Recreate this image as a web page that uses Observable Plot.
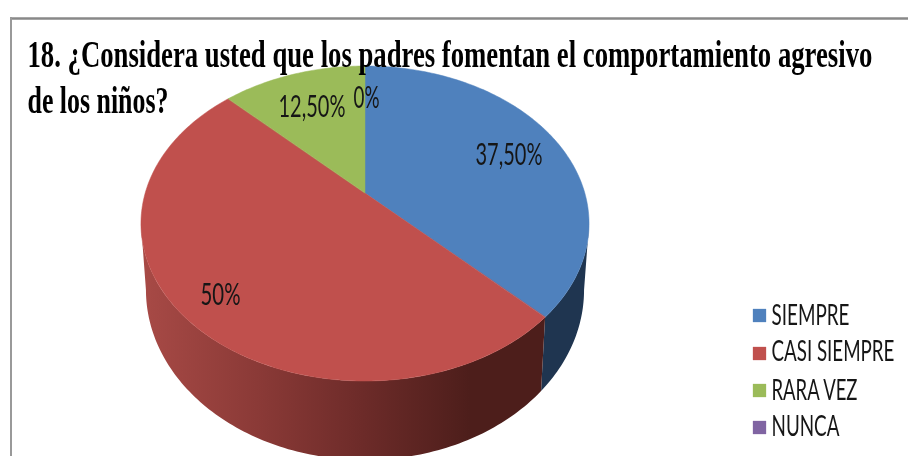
<!DOCTYPE html>
<html lang="es">
<head>
<meta charset="utf-8">
<title>Comportamiento agresivo</title>
<script src="https://cdn.jsdelivr.net/npm/d3@7"></script>
<script src="https://cdn.jsdelivr.net/npm/@observablehq/plot@0.6"></script>
<style>
  html, body { margin: 0; padding: 0; background: #fff; }
  svg { display: block; filter: blur(0.35px); }
</style>
</head>
<body>
<div id="chart"></div>
<script>
// Data
const categories = ["SIEMPRE", "CASI SIEMPRE", "RARA VEZ", "NUNCA"];
const values = [37.5, 50, 12.5, 0];
const valueLabels = ["37,50%", "50%", "12,50%", "0%"];
const colors = ["#4F81BD", "#C0504D", "#9BBB59", "#8064A2"];
const titleLines = [
  "18. ¿Considera usted que los padres fomentan el comportamiento agresivo",
  "de los niños?"
];

// Layout
const W = 908, H = 456;
const persp = 0.1937;
const topDisc = {cx: 365, cy: 193, a: 219.8, b: 151.6};
const bottomDisc = {cx: 365, cy: 257, a: 214.9, b: 163.6};
const wallFills = ["#1F3550", "url(#redWall)", "#5E7136", "#4D3C61"];
const labelAt = [[475, 164, 67], [200, 304, 40], [278, 116, 67], [353, 107, 26]];
const titleAt = [[27, 66, 845], [27, 112, 141]];
const legendTextWidth = [78, 123, 86, 68];
const legendBaseline = [324, 360, 399, 435];
const legendSwatch = [315, 353, 390, 427];

// Oblique projection of the disc
const project = (disc, t) => {
  const d = 1 + persp * Math.cos(t);
  return [disc.cx + disc.a * Math.sin(t) / d, disc.cy - disc.b * Math.cos(t) / d];
};

const slices = d3.pie().sort(null).value(d => d)(values);
const anglesBetween = (a0, a1) => {
  const n = Math.max(2, Math.ceil((a1 - a0) / (Math.PI / 180)));
  return d3.range(n + 1).map(i => a0 + (a1 - a0) * i / n);
};

const visible = slices.map((s, i) => ({s, i})).filter(d => d.s.value > 0);

// Only the front of the wall shows: it runs between the disc's left and right extremes
const frontStart = Math.acos(-persp);
const frontEnd = 2 * Math.PI - frontStart;
const walls = visible
  .filter(({s}) => s.endAngle > frontStart && s.startAngle < frontEnd)
  .map(({s, i}) => Plot.area(
    anglesBetween(Math.max(s.startAngle, frontStart), Math.min(s.endAngle, frontEnd)), {
      x1: t => project(topDisc, t)[0],
      y1: t => project(topDisc, t)[1],
      x2: t => project(bottomDisc, t)[0],
      y2: t => project(bottomDisc, t)[1],
      fill: wallFills[i],
      curve: "linear"
    }));

const faceRows = visible.flatMap(({s, i}) =>
  anglesBetween(s.startAngle, s.endAngle).map(t => ({t, category: categories[i]})));

const faces = Plot.area(faceRows, {
  x1: () => topDisc.cx,
  y1: () => topDisc.cy,
  x2: d => project(topDisc, d.t)[0],
  y2: d => project(topDisc, d.t)[1],
  z: "category",
  fill: "category",
  stroke: "category",
  strokeWidth: 0.5,
  curve: "linear"
});

const defs = () => {
  const svgNS = "http://www.w3.org/2000/svg";
  const g = document.createElementNS(svgNS, "defs");
  const lg = document.createElementNS(svgNS, "linearGradient");
  lg.setAttribute("id", "redWall");
  lg.setAttribute("gradientUnits", "userSpaceOnUse");
  lg.setAttribute("x1", 141); lg.setAttribute("x2", 470);
  lg.setAttribute("y1", 0); lg.setAttribute("y2", 0);
  [[0, "#A84A46"], [0.35, "#8B3A37"], [0.65, "#6F2C2A"], [1, "#4D1E1B"]].forEach(([o, c]) => {
    const st = document.createElementNS(svgNS, "stop");
    st.setAttribute("offset", o);
    st.setAttribute("stop-color", c);
    lg.appendChild(st);
  });
  g.appendChild(lg);
  return g;
};

const narrow = {};
valueLabels.forEach((t, i) => narrow[t] = labelAt[i][2]);
categories.forEach((t, i) => narrow[t] = legendTextWidth[i]);
titleLines.forEach((t, i) => narrow[t] = titleAt[i][2]);

const chart = Plot.plot({
  width: W,
  height: H,
  margin: 0,
  x: {domain: [0, W], range: [0, W], axis: null},
  y: {domain: [0, H], range: [0, H], axis: null},
  color: {domain: categories, range: colors},
  style: {background: "#fff", overflow: "hidden"},
  marks: [
    defs,
    // frame
    Plot.ruleY([18], {x1: 10, x2: W, stroke: "#888", strokeWidth: 2.5}),
    Plot.ruleX([10.5], {y1: 17, y2: H, stroke: "#999", strokeWidth: 2}),
    ...walls,
    faces,
    // value labels
    Plot.text(valueLabels, {
      x: (d, i) => labelAt[i][0],
      y: (d, i) => labelAt[i][1],
      text: d => d,
      textAnchor: "start",
      lineAnchor: "bottom",
      fontFamily: "Lato",
      fontSize: 30,
      fill: "#161616"
    }),
    // title
    Plot.text(titleLines, {
      x: (d, i) => titleAt[i][0],
      y: (d, i) => titleAt[i][1],
      text: d => d,
      textAnchor: "start",
      lineAnchor: "bottom",
      fontFamily: "Liberation Serif",
      fontWeight: "bold",
      fontSize: 37,
      fill: "#000"
    }),
    // legend
    Plot.dot(categories, {
      x: () => 759,
      y: (d, i) => legendSwatch[i],
      fill: d => d,
      symbol: "square",
      r: 7.5
    }),
    Plot.text(categories, {
      x: () => 771,
      y: (d, i) => legendBaseline[i],
      text: d => d,
      textAnchor: "start",
      lineAnchor: "bottom",
      fontFamily: "Lato",
      fontSize: 29,
      fill: "#161616"
    })
  ]
});

document.getElementById("chart").appendChild(chart);

// The original is horizontally compressed: squeeze each text to its width
chart.querySelectorAll("text").forEach(el => {
  const target = narrow[el.textContent];
  if (target) {
    const natural = el.getComputedTextLength();
    const prev = el.getAttribute("transform") || "";
    el.setAttribute("transform", `${prev} scale(${target / natural},1)`);
  }
});
</script>
</body>
</html>
